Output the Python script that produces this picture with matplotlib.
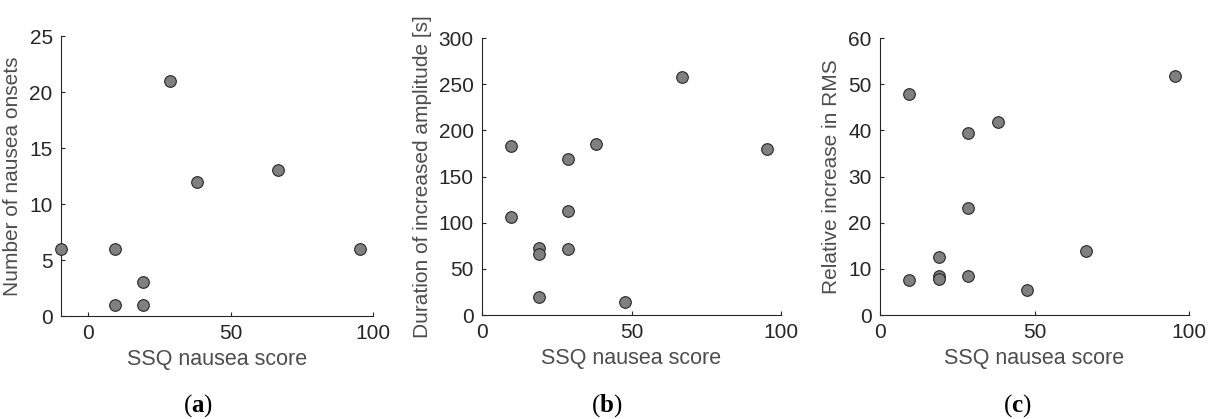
import matplotlib
matplotlib.use("Agg")
import matplotlib.pyplot as plt

# SSQ nausea scores (multiples of 9.54) and measures
ssq_a = [-9.54, 9.54, 9.54, 19.08, 19.08, 28.62, 38.16, 66.78, 95.4]
onsets = [6, 6, 1, 3, 1, 21, 12, 13, 6]

ssq_bc = [9.54, 9.54, 19.08, 19.08, 19.08, 28.62, 28.62, 28.62, 38.16, 47.7, 66.78, 95.4]
duration = [183, 106, 73, 66, 20, 169, 113, 71, 185, 14, 258, 180]
rms_increase = [47.9, 7.5, 12.6, 8.4, 7.7, 39.4, 23.2, 8.5, 41.7, 5.4, 13.9, 51.7]

captions = ["a", "b", "c"]

plt.rcParams["font.family"] = ["Liberation Sans", "DejaVu Sans"]
plt.rcParams["mathtext.fontset"] = "custom"
plt.rcParams["mathtext.rm"] = "Liberation Serif"
plt.rcParams["mathtext.bf"] = "Liberation Serif:bold"

W, H = 1212, 419
fig = plt.figure(figsize=(W / 100, H / 100), dpi=100)

def px_axes(left, right, top, bottom):
    return fig.add_axes([left / W, (H - bottom) / H, (right - left) / W, (bottom - top) / H])

tick_col = "#262626"
label_col = "#4d4d4d"

panels = [
    (px_axes(61, 373, 36, 316), ssq_a, onsets, (-9.54, 100), (0, 25), [0, 5, 10, 15, 20, 25],
     "Number of nausea onsets"),
    (px_axes(482, 781, 38, 315), ssq_bc, duration, (0, 100), (0, 300), [0, 50, 100, 150, 200, 250, 300],
     "Duration of increased amplitude [s]"),
    (px_axes(880, 1189, 38, 315), ssq_bc, rms_increase, (0, 100), (0, 60), [0, 10, 20, 30, 40, 50, 60],
     "Relative increase in RMS"),
]

caption_x = [198, 607, 1017]

for i, (ax, x, y, xl, yl, yt, ylabel) in enumerate(panels):
    ax.scatter(x, y, s=70, c="#808080", edgecolors="#262626", linewidths=0.8, clip_on=False, zorder=3)
    ax.set_xlim(*xl)
    ax.set_ylim(*yl)
    ax.set_xticks([0, 50, 100])
    ax.set_yticks(yt)
    ax.spines["top"].set_visible(False)
    ax.spines["right"].set_visible(False)
    for s in ["left", "bottom"]:
        ax.spines[s].set_color(tick_col)
        ax.spines[s].set_linewidth(0.8)
    ax.tick_params(direction="in", length=3, width=0.8, colors=tick_col, labelsize=15, pad=6)
    ax.set_xlabel("SSQ nausea score", fontsize=15.5, color=label_col, labelpad=4)
    ax.set_ylabel(ylabel, fontsize=15, color=label_col, labelpad=5)
    fig.text(caption_x[i] / W, (H - 406) / H, r"$(\mathbf{%s})$" % captions[i],
             fontsize=18, ha="center", va="center", color="black")

fig.savefig("out.png", dpi=100)
